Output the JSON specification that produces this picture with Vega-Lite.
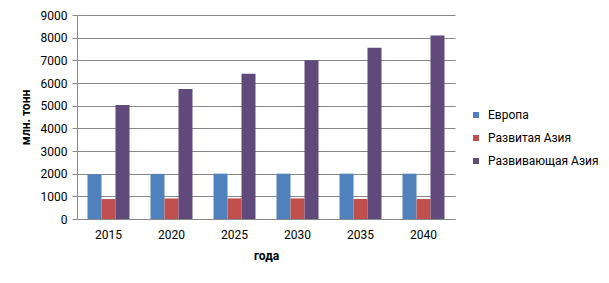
{
  "$schema": "https://vega.github.io/schema/vega-lite/v6.json",
  "width": 378,
  "height": 204,
  "autosize": {"type": "none"},
  "padding": {"left": 77, "top": 15, "right": 154, "bottom": 64},
  "background": "white",
  "data": {
    "values": [
      {"year": "2015", "series": "Европа", "value": 1970},
      {"year": "2015", "series": "Развитая Азия", "value": 880},
      {"year": "2015", "series": "Развивающая Азия", "value": 5030},
      {"year": "2020", "series": "Европа", "value": 1990},
      {"year": "2020", "series": "Развитая Азия", "value": 905},
      {"year": "2020", "series": "Развивающая Азия", "value": 5740},
      {"year": "2025", "series": "Европа", "value": 2000},
      {"year": "2025", "series": "Развитая Азия", "value": 910},
      {"year": "2025", "series": "Развивающая Азия", "value": 6410},
      {"year": "2030", "series": "Европа", "value": 2000},
      {"year": "2030", "series": "Развитая Азия", "value": 910},
      {"year": "2030", "series": "Развивающая Азия", "value": 7000},
      {"year": "2035", "series": "Европа", "value": 2000},
      {"year": "2035", "series": "Развитая Азия", "value": 885},
      {"year": "2035", "series": "Развивающая Азия", "value": 7560},
      {"year": "2040", "series": "Европа", "value": 2000},
      {"year": "2040", "series": "Развитая Азия", "value": 880},
      {"year": "2040", "series": "Развивающая Азия", "value": 8100}
    ]
  },
  "mark": {"type": "bar"},
  "encoding": {
    "x": {
      "field": "year",
      "type": "nominal",
      "scale": {"paddingInner": 0.3333, "paddingOuter": 0.1667},
      "axis": {
        "title": "года",
        "labelAngle": 0,
        "ticks": false,
        "domainColor": "#898989",
        "labelPadding": 10,
        "titlePadding": 10,
        "labelFontSize": 12,
        "titleFontSize": 12,
        "titleFontWeight": "bold",
        "labelColor": "#000000",
        "titleColor": "#000000"
      }
    },
    "xOffset": {
      "field": "series",
      "type": "nominal",
      "sort": ["Европа", "Развитая Азия", "Развивающая Азия"],
      "scale": {"paddingInner": 0, "paddingOuter": 0}
    },
    "y": {
      "field": "value",
      "type": "quantitative",
      "scale": {"domain": [0, 9000], "nice": false},
      "axis": {
        "title": "млн. тонн",
        "values": [0, 1000, 2000, 3000, 4000, 5000, 6000, 7000, 8000, 9000],
        "format": "d",
        "grid": true,
        "gridColor": "#898989",
        "domainColor": "#898989",
        "tickColor": "#898989",
        "tickSize": 5,
        "labelPadding": 5,
        "titlePadding": 8,
        "labelFontSize": 12,
        "titleFontSize": 12,
        "titleFontWeight": "bold",
        "labelColor": "#000000",
        "titleColor": "#000000"
      }
    },
    "color": {
      "field": "series",
      "type": "nominal",
      "sort": ["Европа", "Развитая Азия", "Развивающая Азия"],
      "scale": {
        "domain": ["Европа", "Развитая Азия", "Развивающая Азия"],
        "range": ["#4F81BD", "#C0504D", "#604A7B"]
      },
      "legend": {
        "title": null,
        "orient": "none",
        "legendX": 393,
        "legendY": 94,
        "symbolType": "square",
        "symbolSize": 36,
        "symbolStrokeWidth": 0,
        "labelFontSize": 12,
        "labelColor": "#000000",
        "labelOffset": 6,
        "rowPadding": 11
      }
    }
  },
  "config": {
    "font": "Roboto",
    "view": {"stroke": null},
    "axis": {"domainWidth": 1, "gridWidth": 1}
  }
}
